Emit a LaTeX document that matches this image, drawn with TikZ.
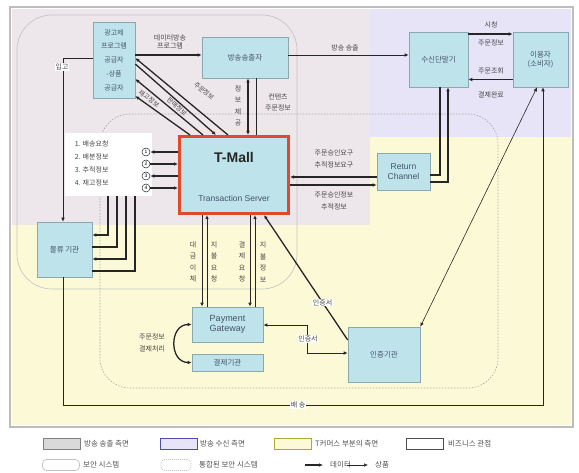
\documentclass[tikz,border=0pt]{standalone}
\usepackage{fontspec}
\setmainfont{Noto Sans CJK KR}
\newfontfamily\lat{Liberation Sans}
\usetikzlibrary{arrows.meta}
\definecolor{boxfill}{HTML}{BEE3EA}
\definecolor{boxline}{HTML}{8AA8B0}
\definecolor{pinkbg}{HTML}{EDE6EB}
\definecolor{lavbg}{HTML}{E6E4F6}
\definecolor{yelbg}{HTML}{FCFAD6}
\definecolor{framec}{HTML}{BDBDBD}
\definecolor{tred}{HTML}{E2482B}
\definecolor{txt}{HTML}{44546A}
\definecolor{ink}{HTML}{262626}
\definecolor{secc}{HTML}{C2C2C2}
\begin{document}
\begin{tikzpicture}[x=1pt,y=-1pt,
 box/.style={draw=boxline,fill=boxfill,line width=0.6pt,inner sep=1pt,align=center,text=txt,font=\fontsize{7.5}{9}\selectfont},
 lbl/.style={inner sep=0.6pt,text=ink!85,align=center,font=\fontsize{7}{8.5}\selectfont},
 wlbl/.style={lbl,fill=white},
 dlbl/.style={lbl,font=\fontsize{6.5}{7.5}\selectfont},
 vlbl/.style={lbl,font=\fontsize{7}{11.5}\selectfont},
 dat/.style={line width=1.3pt,draw=ink},
 mid/.style={line width=0.9pt,draw=ink},
 prod/.style={line width=0.6pt,draw=ink},
 arr/.style={-{Latex[length=4pt,width=3.6pt]}},
 rarr/.style={{Latex[length=4pt,width=3.6pt]}-},
 barr/.style={{Latex[length=4pt,width=3.6pt]}-{Latex[length=4pt,width=3.6pt]}},
 circ/.style={circle,draw=ink,fill=white,line width=0.5pt,inner sep=0pt,minimum size=8pt,font=\lat\fontsize{5}{5}\selectfont},
 legt/.style={anchor=west,inner sep=0pt,text=ink!80,font=\fontsize{7.5}{8}\selectfont},
 legbox/.style={minimum width=37pt,minimum height=11pt,inner sep=0pt,line width=0.7pt},
]
\useasboundingbox (0,0) rectangle (579,473);
\fill[white] (0,0) rectangle (579,473);
% regions
\fill[yelbg] (12,9) rectangle (571,425);
\fill[pinkbg] (12,9) rectangle (370,225);
\fill[lavbg] (370,9) rectangle (571,137);
\draw[framec,line width=1.2pt] (10,7) rectangle (573,427);
% security systems
\draw[secc,line width=0.6pt,rounded corners=35pt] (17,15) rectangle (297,289);
\draw[secc!85!black,line width=0.6pt,dash pattern=on 1.5pt off 1.5pt,rounded corners=30pt] (100,114) rectangle (498,388);

% nodes
\node[box,minimum width=42pt,minimum height=76pt,font=\fontsize{7}{13.7}\selectfont] (ad) at (114,60) {광고제\\프로그램\\공급자\\-상품\\공급자};
\node[box,minimum width=86pt,minimum height=41pt] (bc) at (245,57.5) {방송송출자};
\node[box,minimum width=59pt,minimum height=55pt] (rv) at (438.5,59.5) {수신단말기};
\node[box,minimum width=55pt,minimum height=55pt] (us) at (540.5,59.5) {이용자\\(소비자)};
\node[box,draw=tred,line width=3.2pt,minimum width=108.8pt,minimum height=76.8pt] (tm) at (234,175) {};
\node[font=\lat\bfseries\fontsize{14}{16}\selectfont,text=ink,inner sep=0pt] (tmt) at (234,157) {T-Mall};
\node[font=\lat\fontsize{8.5}{10}\selectfont,text=txt,inner sep=0pt] (tms) at (234,198) {Transaction Server};
\node[box,minimum width=53pt,minimum height=37pt,font=\lat\fontsize{8.5}{10}\selectfont] (rc) at (403.5,171.5) {Return\\Channel};
\node[box,minimum width=55pt,minimum height=55pt] (lg) at (64.5,249.5) {물류 기관};
\node[box,minimum width=71pt,minimum height=35pt,font=\lat\fontsize{9}{10.5}\selectfont] (pg) at (227.5,324.5) {Payment\\Gateway};
\node[box,minimum width=71pt,minimum height=17pt] (bk) at (227.5,362.5) {결제기관};
\node[box,minimum width=72pt,minimum height=55pt] (ce) at (384,354.5) {인증기관};

% list box
\node[fill=white,minimum width=87pt,minimum height=63pt,inner sep=0pt] (ls) at (108.5,164.5) {};
\node[lbl,anchor=west] (l1) at (74,144) {1. 배송요청};
\node[lbl,anchor=west] (l2) at (74,157) {2. 배분정보};
\node[lbl,anchor=west] (l3) at (74,170) {3. 추적정보};
\node[lbl,anchor=west] (l4) at (74,183) {4. 재고정보};
\node[circ] (c1) at (146,152) {1};
\node[circ] (c2) at (146,164) {2};
\node[circ] (c3) at (146,176) {3};
\node[circ] (c4) at (146,188) {4};
\draw[dat,arr] (tm.west |- c1) -- (c1);
\draw[dat,arr] (c2) -- (tm.west |- c2);
\draw[dat,arr] (tm.west |- c3) -- (c3);
\draw[dat,arr] (c4) -- (tm.west |- c4);
\draw[dat,arr] ([xshift=-0.5pt]ls.south) |- ([yshift=14.5pt]lg.east);
\draw[dat] ([xshift=8.5pt]ls.south) |- ([yshift=2.5pt]lg.east);
\draw[dat,arr] ([xshift=17.5pt]ls.south) |- ([yshift=-9.5pt]lg.east);
\draw[dat] ([xshift=26.5pt]ls.south) |- ([yshift=-21.5pt]lg.east);

% 입고
\draw[prod,arr] ([yshift=2pt]ad.west) -| ([xshift=-1.5pt]lg.north);
\node[wlbl] (ipgo) at (62,67) {입고};

% ad -> broadcaster
\draw[dat,arr] ([yshift=5pt]ad.east) -- ([yshift=5pt]ad.east -| bc.west);
\node[lbl] (dbl) at (170,42) {데이터방송\\프로그램};

% diagonals ad <-> T-Mall
\draw[dat,arr] ([xshift=-6pt]tm.north) -- ([yshift=2pt]ad.east);
\draw[dat,arr] ([yshift=-4pt]ad.east) -- ([xshift=-18pt]tm.north);
\draw[dat,arr] ([xshift=-31pt]tm.north) -- ([yshift=-19pt]ad.east);
\draw[dat,arr] ([xshift=-44pt]tm.north) -- ([yshift=-36pt]ad.east);
\node[dlbl,rotate=-40] (dg1) at (204,91) {주문정보};
\node[dlbl,rotate=-41] (dg2) at (177,107) {판매정보};
\node[dlbl,rotate=-37] (dg3) at (149,98.5) {재고정보};

% broadcaster <-> T-Mall
\draw[dat,barr] ([xshift=3pt]bc.south) -- ([xshift=3pt]bc.south |- tm.north);
\draw[mid] ([xshift=11pt]bc.south) -- ([xshift=11pt]bc.south |- tm.north);
\node[vlbl] (jb) at (238,106) {정\\보\\제\\공};
\node[lbl,font=\fontsize{7}{11}\selectfont] (ct) at (278,102) {컨텐츠\\주문정보};

% broadcaster -> receiver
\draw[mid,arr] ([yshift=2.5pt]bc.east) -- ([yshift=2.5pt]bc.east -| rv.west);
\node[lbl] (bs) at (345,48) {방송 송출};

% receiver <-> user
\draw[dat,arr] ([yshift=25.5pt]rv.east) -- ([yshift=25.5pt]rv.east -| us.west);
\draw[dat,rarr] ([yshift=-20pt]rv.east) -- ([yshift=-20pt]rv.east -| us.west);
\node[lbl] (u1) at (491,25) {시청};
\node[lbl] (u2) at (491,43) {주문정보};
\node[lbl] (u3) at (491,71) {주문조회};
\node[lbl] (u4) at (491,95) {결제완료};

% return channel
\draw[dat] ([yshift=-3.5pt]rc.east) -| ([xshift=1.5pt]rv.south);
\draw[dat,arr] ([yshift=-10.5pt]rc.east) -| ([xshift=9.5pt]rv.south);
\draw[dat,arr] ([yshift=-5.5pt]rc.west) -- ([yshift=-5.5pt]rc.west -| tm.east);
\draw[dat,rarr] ([yshift=-13.5pt]rc.west) -- ([yshift=-13.5pt]rc.west -| tm.east);
\node[lbl,font=\fontsize{7}{11.5}\selectfont] (r1) at (334,159) {주문승인요구\\추적정보요구};
\node[lbl,font=\fontsize{7}{11.5}\selectfont] (r2) at (334,201) {주문승인정보\\추적정보};

% T-Mall <-> payment gateway
\draw[mid,arr] ([xshift=-32pt]tm.south) -- ([xshift=-32pt]tm.south |- pg.north);
\draw[mid,rarr] ([xshift=-27pt]tm.south) -- ([xshift=-27pt]tm.south |- pg.north);
\draw[mid,arr] ([xshift=16pt]tm.south) -- ([xshift=16pt]tm.south |- pg.north);
\draw[mid,rarr] ([xshift=21pt]tm.south) -- ([xshift=21pt]tm.south |- pg.north);
\node[vlbl] (p1) at (193,262) {대\\금\\이\\체};
\node[vlbl] (p2) at (214,262) {지\\불\\요\\청};
\node[vlbl] (p3) at (242,262) {결\\제\\요\\청};
\node[vlbl] (p4) at (263,262) {지\\불\\정\\보};

% payment gateway <-> bank
\draw[dat,barr] (pg.west) .. controls (169,324.5) and (169,362.5) .. (bk.west);
\node[lbl,font=\fontsize{7}{12}\selectfont] (pb) at (152,343) {주문정보\\결제처리};

% certification
\coordinate (k1) at (307,325);
\coordinate (k2) at (307,353);
\draw[mid,barr] (pg.east |- k1) -- (k1) -- (k2) -- (k2 -| ce.west);
\node[wlbl] (cs1) at (308,339) {인증서};
\draw[dat,arr] ([yshift=14.5pt]ce.west) -- ([xshift=30pt]tm.south) node[wlbl,pos=0.3] (cs2) {인증서};
\draw[prod,barr] ([xshift=-3.5pt]us.south) -- (ce.north east);

% delivery
\coordinate (b2) at (543,405);
\draw[prod,arr] ([xshift=-1.5pt]lg.south) |- (b2) -- (b2 |- us.south);
\node[wlbl] (bs2) at (298,405) {배 송};

% legend
\node[legbox,fill=black!15,draw=black!50] (g1) at (61.5,444) {};
\node[legt] (t1) at (84,444) {방송 송출 측면};
\node[legbox,fill=lavbg,draw=blue!40!gray] (g2) at (178.5,444) {};
\node[legt] (t2) at (200,444) {방송 수신 측면};
\node[legbox,fill=yelbg,draw=olive!70] (g3) at (292.5,444) {};
\node[legt] (t3) at (315,444) {T커머스 부분의 측면};
\node[legbox,fill=white,draw=black!70] (g4) at (425,444) {};
\node[legt] (t4) at (448,444) {비즈니스 관점};
\node[legbox,fill=white,draw=secc,rounded corners=4pt] (g5) at (61,465) {};
\node[legt] (t5) at (83,465) {보안 시스템};
\node[legbox,fill=white,draw=secc,dash pattern=on 1pt off 1pt,rounded corners=4pt,minimum width=30pt] (g6) at (176,465) {};
\node[legt] (t6) at (199,465) {통합된 보안 시스템};
\coordinate (a1) at (305,465);
\coordinate (a2) at (323,465);
\draw[dat,arr] (a1) -- (a2);
\node[legt] (t7) at (330,465) {데이터};
\coordinate (a3) at (347,465);
\coordinate (a4) at (368,465);
\draw[prod,arr] (a3) -- (a4);
\node[legt] (t8) at (375,465) {상품};
\end{tikzpicture}
\end{document}
